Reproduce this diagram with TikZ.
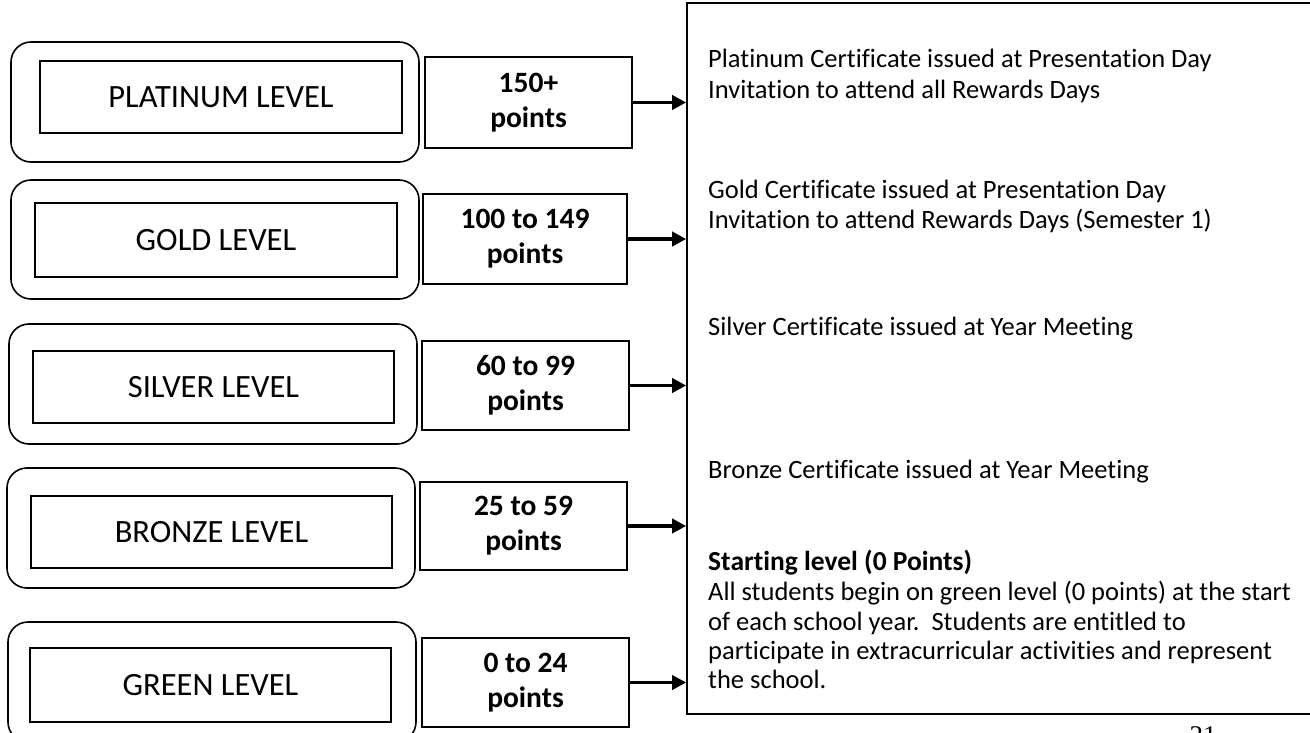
\documentclass[tikz,border=0pt]{standalone}
\usepackage{fontspec}
\setmainfont{Carlito}[Ligatures={NoCommon}]
\newfontfamily\pagenumfont{Liberation Serif}
\usetikzlibrary{arrows.meta}

\begin{document}
\begin{tikzpicture}[x=1pt,y=-1pt,
        outerbox/.style={draw,rounded corners=20pt,line width=1.6pt},
        levelbox/.style={draw,line width=1.6pt,font=\fontsize{32.5}{38}\selectfont},
        ptsbox/.style={draw,line width=2pt,align=center,font=\fontsize{29.5}{35}\selectfont\bfseries},
        rewline/.style={anchor=base west,inner sep=0pt,font=\fontsize{26.5}{31}\selectfont},
        arr/.style={-{Triangle[length=14pt,width=14pt]},line width=3.5pt}]
        \useasboundingbox (0,0) rectangle (1310,733);

        \node[draw,line width=1.6pt,minimum width=643pt,minimum height=711pt] (rew) at (1008.5,358.5) {};

        \node[outerbox,minimum width=408pt,minimum height=120pt] (platout) at (215,102) {};
        \node[levelbox,minimum width=362pt,minimum height=72pt] (plat) at (221,97) {PLATINUM LEVEL};
        \node[ptsbox,minimum width=207pt,minimum height=91pt] (platpts) at (528.5,102.5) {150+\\points};

        \node[outerbox,minimum width=408pt,minimum height=119pt] (goldout) at (215,239.5) {};
        \node[levelbox,minimum width=362pt,minimum height=74pt] (gold) at (216,240) {GOLD LEVEL};
        \node[ptsbox,minimum width=204pt,minimum height=90pt] (goldpts) at (525,239) {100 to 149\\points};

        \node[outerbox,minimum width=408pt,minimum height=120pt] (silvout) at (213,384) {};
        \node[levelbox,minimum width=361pt,minimum height=72pt] (silv) at (213.5,387) {SILVER LEVEL};
        \node[ptsbox,minimum width=207pt,minimum height=89pt] (silvpts) at (525.5,385.5) {60 to 99\\points};

        \node[outerbox,minimum width=408pt,minimum height=120pt] (bronout) at (211,528) {};
        \node[levelbox,minimum width=361pt,minimum height=72pt] (bron) at (211.5,532) {BRONZE LEVEL};
        \node[ptsbox,minimum width=207pt,minimum height=88pt] (bronpts) at (523.5,526) {25 to 59\\points};

        \node[outerbox,minimum width=408pt,minimum height=120pt] (grnout) at (212,682) {};
        \node[levelbox,minimum width=361pt,minimum height=74pt] (grn) at (210.5,685) {GREEN LEVEL};
        \node[ptsbox,minimum width=207pt,minimum height=89pt] (grnpts) at (525.5,682.5) {0 to 24\\points};

        \draw[arr] (platpts.east) -- (platpts.east -| rew.west);
        \draw[arr] (goldpts.east) -- (goldpts.east -| rew.west);
        \draw[arr] (silvpts.east) -- (silvpts.east -| rew.west);
        \draw[arr] (bronpts.east) -- (bronpts.east -| rew.west);
        \draw[arr] (grnpts.east) -- (grnpts.east -| rew.west);

        \node[rewline] (plata) at (708,68) {Platinum Certificate issued at Presentation Day};
        \node[rewline] (platb) at (708,99) {Invitation to attend all Rewards Days};
        \node[rewline] (golda) at (708,198) {Gold Certificate issued at Presentation Day};
        \node[rewline] (goldb) at (708,229) {Invitation to attend Rewards Days (Semester 1)};
        \node[rewline] (silva) at (708,335) {Silver Certificate issued at Year Meeting};
        \node[rewline] (brona) at (708,478) {Bronze Certificate issued at Year Meeting};
        \node[rewline,font=\fontsize{27.5}{32}\selectfont\bfseries] (start) at (708,570) {Starting level (0 Points)};
        \node[rewline] (starta) at (708,600) {All students begin on green level (0 points) at the start};
        \node[rewline] (startb) at (708,630) {of each school year.\ \ Students are entitled to};
        \node[rewline] (startc) at (708,659) {participate in extracurricular activities and represent};
        \node[rewline] (startd) at (708,688) {the school.};

        \node[anchor=base,inner sep=0pt,font=\pagenumfont\fontsize{27}{30}\selectfont] (pagenum) at (1203,744) {21};

        \end{tikzpicture}
\end{document}
